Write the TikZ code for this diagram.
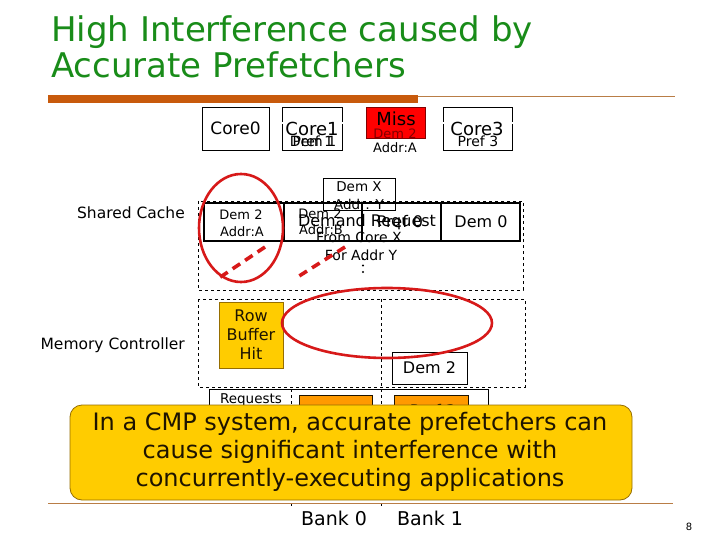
\documentclass[tikz,border=0pt]{standalone}
\usepackage{fontspec}
\setmainfont{DejaVu Sans}
\definecolor{titlegreen}{RGB}{25,140,25}
\definecolor{barorange}{RGB}{200,90,12}
\definecolor{linebrown}{RGB}{185,125,70}
\definecolor{mred}{RGB}{215,25,25}
\definecolor{missred}{RGB}{255,0,0}
\definecolor{darkred}{RGB}{130,0,0}
\definecolor{gold}{RGB}{255,204,0}
\definecolor{goldline}{RGB}{150,110,0}
\definecolor{orng}{RGB}{255,153,0}
\definecolor{textdark}{RGB}{30,20,0}
\begin{document}
\begin{tikzpicture}[x=1pt,y=-1pt,
  fs/.style={font=\fontsize{#1}{#1}\selectfont},
  txt/.style={inner sep=0pt},
  thinbox/.style={draw, line width=0.7pt, inner sep=0pt},
  dblbox/.style={draw, double, double distance=1.2pt, line width=0.5pt, inner sep=0pt},
  cell/.style={draw, line width=2.6pt, inner sep=0pt, minimum height=38},
  dashbox/.style={draw, dashed, line width=0.7pt},
  redring/.style={draw=mred, line width=2.6pt},
  reddash/.style={draw=mred, line width=3.6pt, dash pattern=on 9pt off 6pt},
]
\useasboundingbox (0,0) rectangle (720,540);
\fill[white] (0,0) rectangle (720,540);

% title
\node[txt, anchor=base west, text=titlegreen, fs=34] (t1) at (51,42) {High Interference caused by};
\node[txt, anchor=base west, text=titlegreen, fs=34] (t2) at (51,78) {Accurate Prefetchers};
\fill[barorange] (48,95) rectangle (418,103);
\draw[linebrown, line width=0.8pt] (418,96.5) -- (675,96.5);

% cores
\node[thinbox, fill=white, minimum width=67, minimum height=43, fs=17] (core0) at (235.5,128.5) {Core0};
\node[thinbox, fill=white, minimum width=60, minimum height=43] (core1) at (312,128.5) {};
\node[thinbox, fill=white, minimum width=69, minimum height=43] (core3) at (477.5,128.5) {};
\node[dblbox, minimum width=74, minimum height=32] (q1) at (315,139) {};
\node[dblbox, minimum width=71, minimum height=33] (q2) at (395.5,138.5) {};
\node[dblbox, minimum width=74, minimum height=32] (q3) at (478,139) {};
\node[txt, fs=18] (c1t) at (312,129) {Core1};
\node[txt, fs=14] (d1t) at (313,141) {Dem 1};
\node[txt, fs=14] (p1t) at (313,141) {Pref 1};
\node[txt, fs=18] (c3t) at (477,129) {Core3};
\node[txt, fs=14] (p3t) at (478,141) {Pref 3};
\node[draw=darkred, line width=0.6pt, fill=missred, minimum width=59, minimum height=31, inner sep=0pt] (miss) at (395.5,122.5) {};
\node[txt, fs=18] (misst) at (396,119) {Miss};
\node[txt, fs=13, text=darkred] (d2t) at (395,134) {Dem 2};
\node[txt, fs=13] (a2t) at (395,148) {Addr:A};

% shared cache
\node[txt, anchor=east, fs=15.5] (sclbl) at (185,213) {Shared Cache};
\draw[dashbox] (198,201) rectangle (523,290);
\node[cell, minimum width=80] (cl1) at (244,222) {};
\node[cell, minimum width=78] (cl2) at (323,222) {};
\node[cell, minimum width=79] (cl3) at (401.5,222) {};
\node[cell, minimum width=79] (cl4) at (480.5,222) {};
\node[txt, fs=13] (cl1a) at (241,215) {Dem 2};
\node[txt, fs=13] (cl1b) at (242,232) {Addr:A};
\node[txt, fs=13] (cl2a) at (320,214) {Dem 2};
\node[txt, fs=13] (cl2b) at (321,230) {Addr:B};
\node[txt, fs=16] (cl3a) at (400,222) {Pref 0};
\node[txt, fs=16] (cl4a) at (481,222) {Dem 0};
\node[thinbox, minimum width=72, minimum height=32] (demx) at (359,194) {};
\node[txt, fs=13.5] (demxa) at (359,187) {Dem X};
\node[txt, fs=13.5] (demxb) at (359,204) {Addr: Y};
\node[txt, fs=16] (req1) at (367,222) {Demand Request};
\node[txt, fs=14] (req2) at (359,237) {From Core X};
\node[txt, fs=14] (req3) at (361,255) {For Addr Y};
\foreach \yy in {259,265.5,272} \fill (363,\yy) circle (1.2);
\draw[redring] (241,228) ellipse [x radius=42, y radius=54];
\coordinate (r1a) at (265,247);
\coordinate (r1b) at (219,278);
\coordinate (r2a) at (345,247);
\coordinate (r2b) at (296,278);
\draw[reddash] (r1a) -- (r1b);
\draw[reddash] (r2a) -- (r2b);

% memory controller
\node[txt, anchor=east, fs=15.5] (mclbl) at (185,345) {Memory Controller};
\draw[dashbox] (198,299) rectangle (525,387);
\node[thinbox, fill=gold, draw=goldline, minimum width=64, minimum height=66, fs=16, text=textdark, align=center] (rbh) at (251,335) {Row\\[3pt]Buffer\\[3pt]Hit};
\node[thinbox, minimum width=75, minimum height=32, fs=16] (dem2) at (429.5,368) {Dem 2};
\draw[redring] (387,323) ellipse [x radius=105, y radius=35];

% request queue
\draw[line width=0.7pt] (209,500) -- (209,389) -- (488,389) -- (488,500);
\node[txt, fs=13.5, anchor=north] (reqs) at (251,393) {Requests};
\node[draw=textdark, line width=0.6pt, fill=orng, minimum width=73, minimum height=70, inner sep=0pt] (o1) at (335.5,430) {};
\node[draw=textdark, line width=0.6pt, fill=orng, minimum width=74, minimum height=70, inner sep=0pt] (o2) at (431,430) {};
\node[txt, fs=16, anchor=north] (o2t) at (433,404) {Pref 2};
\coordinate (b0top) at (291,389);
\coordinate (b0bot) at (291,507);
\coordinate (b1top) at (381,299);
\coordinate (b1bot) at (381,507);
\draw[dashed, line width=0.7pt] (b0top) -- (b0bot);
\draw[dashed, line width=0.7pt] (b1top) -- (b1bot);

% banner
\draw[linebrown, line width=0.8pt] (48,503) -- (673,503);
\node[draw=goldline, line width=0.8pt, fill=gold, rounded corners=12pt, minimum width=562, minimum height=95, inner sep=0pt] (banner) at (351,452.5) {};
\node[txt, fs=24, text=textdark, align=center] (bannert) at (350,452) {In a CMP system, accurate prefetchers can\\[4pt]cause significant interference with\\[4pt]concurrently-executing applications};

\node[txt, fs=19] (bank0) at (334,518) {Bank 0};
\node[txt, fs=19] (bank1) at (430,518) {Bank 1};
\node[txt, fs=10] (pg) at (689,527) {8};
\end{tikzpicture}
\end{document}
